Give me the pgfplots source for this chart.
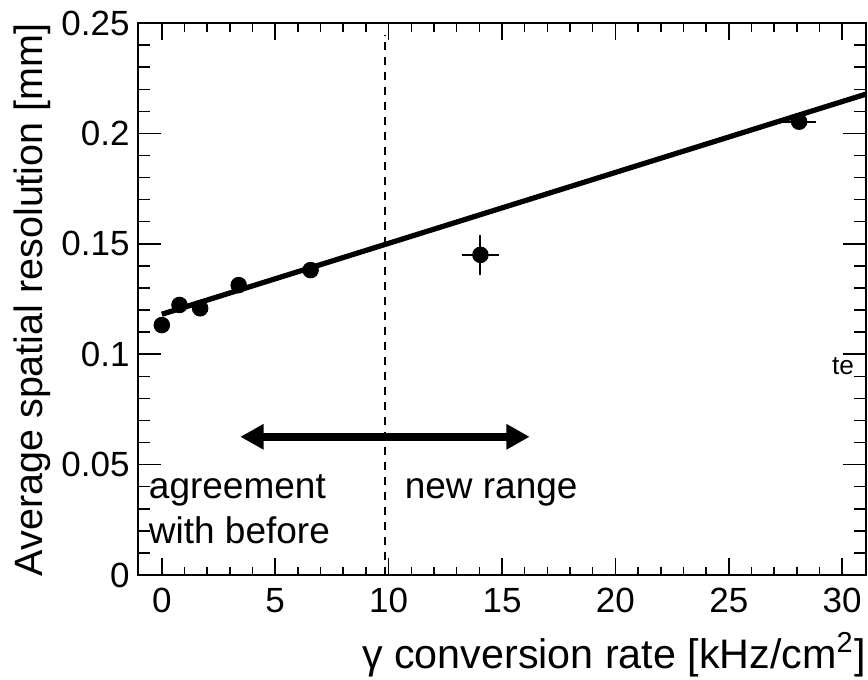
\documentclass[border=0pt]{standalone}
\usepackage{fontspec}
\setmainfont{Liberation Sans}
\usepackage{pgfplots}
\pgfplotsset{compat=1.18}
\usetikzlibrary{arrows.meta}

% Measured points: x, y, x error, y error
\pgfplotstableread{
x      y       ex     ey
0.00   0.1132  0      0
0.78   0.1223  0      0
1.69   0.1208  0      0
3.39   0.1313  0      0
6.56   0.1381  0      0
14.05  0.1450  0.83   0.009
28.10  0.2053  0.74   0.002
}\measured

\begin{document}
\begin{tikzpicture}
\path[use as bounding box] (-55.2pt,-41.6pt) rectangle (292pt,230pt);
\begin{axis}[
  at={(0,0)}, anchor=south west,
  scale only axis,
  width=291.2pt, height=220.8pt,
  xmin=-1.05, xmax=31.05,
  ymin=0, ymax=0.25,
  axis line style={line width=0.8pt},
  tick style={line width=0.6pt, black},
  tick align=inside,
  xtick={0,5,10,15,20,25,30},
  minor x tick num=4,
  ytick={0,0.05,0.1,0.15,0.2,0.25},
  yticklabels={0,0.05,0.1,0.15,0.2,0.25},
  scaled y ticks=false,
  minor y tick num=4,
  x tick style={/pgfplots/major tick length=6.7pt, /pgfplots/minor tick length=3.4pt},
  y tick style={/pgfplots/major tick length=9.2pt, /pgfplots/minor tick length=4.8pt},
  /pgf/number format/assume math mode=true,
  ticklabel style={font=\fontsize{14}{14}\selectfont},
  xticklabel style={anchor=north, inner sep=0pt, yshift=-5.2pt},
  yticklabel style={anchor=east, inner sep=0pt, xshift=-3.2pt},
  xlabel={γ conversion rate [kHz/cm\textsuperscript{2}]},
  ylabel={Average spatial resolution [mm]},
  xlabel style={font=\fontsize{16.5}{18}\selectfont,
    at={(axis description cs:1,-0.1685)}, anchor=base east, inner sep=0pt},
  ylabel style={font=\fontsize{15.8}{18}\selectfont,
    at={(axis description cs:-0.1305,1)}, anchor=base east, inner sep=0pt},
]
% straight-line fit
\addplot[black, line width=2.1pt, no markers] coordinates {(0,0.1181) (31.05,0.2178)};
% data with error bars
\addplot[black, only marks, mark=*, mark size=3.1pt,
  error bars/.cd, x dir=both, x explicit, y dir=both, y explicit,
  error mark=none, error bar style={line width=0.8pt}]
  table[x=x, y=y, x error=ex, y error=ey] {\measured};
% boundary between ranges
\draw[black, line width=0.8pt, dash pattern=on 3.3pt off 2.7pt]
  (axis cs:9.84,0) -- (axis cs:9.84,0.2446);
% double arrow
\draw[black, line width=3.2pt,
  {Triangle[length=9.3pt,width=9.6pt]}-{Triangle[length=9.3pt,width=9.6pt]}]
  (axis cs:3.46,0.0626) -- (axis cs:16.22,0.0626);
\node[anchor=base west, inner sep=0pt, font=\fontsize{14.8}{18}\selectfont]
  at (axis cs:-0.59,0.03474) {agreement};
\node[anchor=base west, inner sep=0pt, font=\fontsize{14.8}{18}\selectfont]
  at (axis cs:-0.59,0.01436) {with before};
\node[anchor=base west, inner sep=0pt, font=\fontsize{14.8}{18}\selectfont]
  at (axis cs:10.69,0.03474) {new range};
\node[anchor=base east, inner sep=0pt, font=\fontsize{10.5}{12}\selectfont]
  at (axis cs:30.54,0.0906) {te};
\end{axis}
\end{tikzpicture}
\end{document}
